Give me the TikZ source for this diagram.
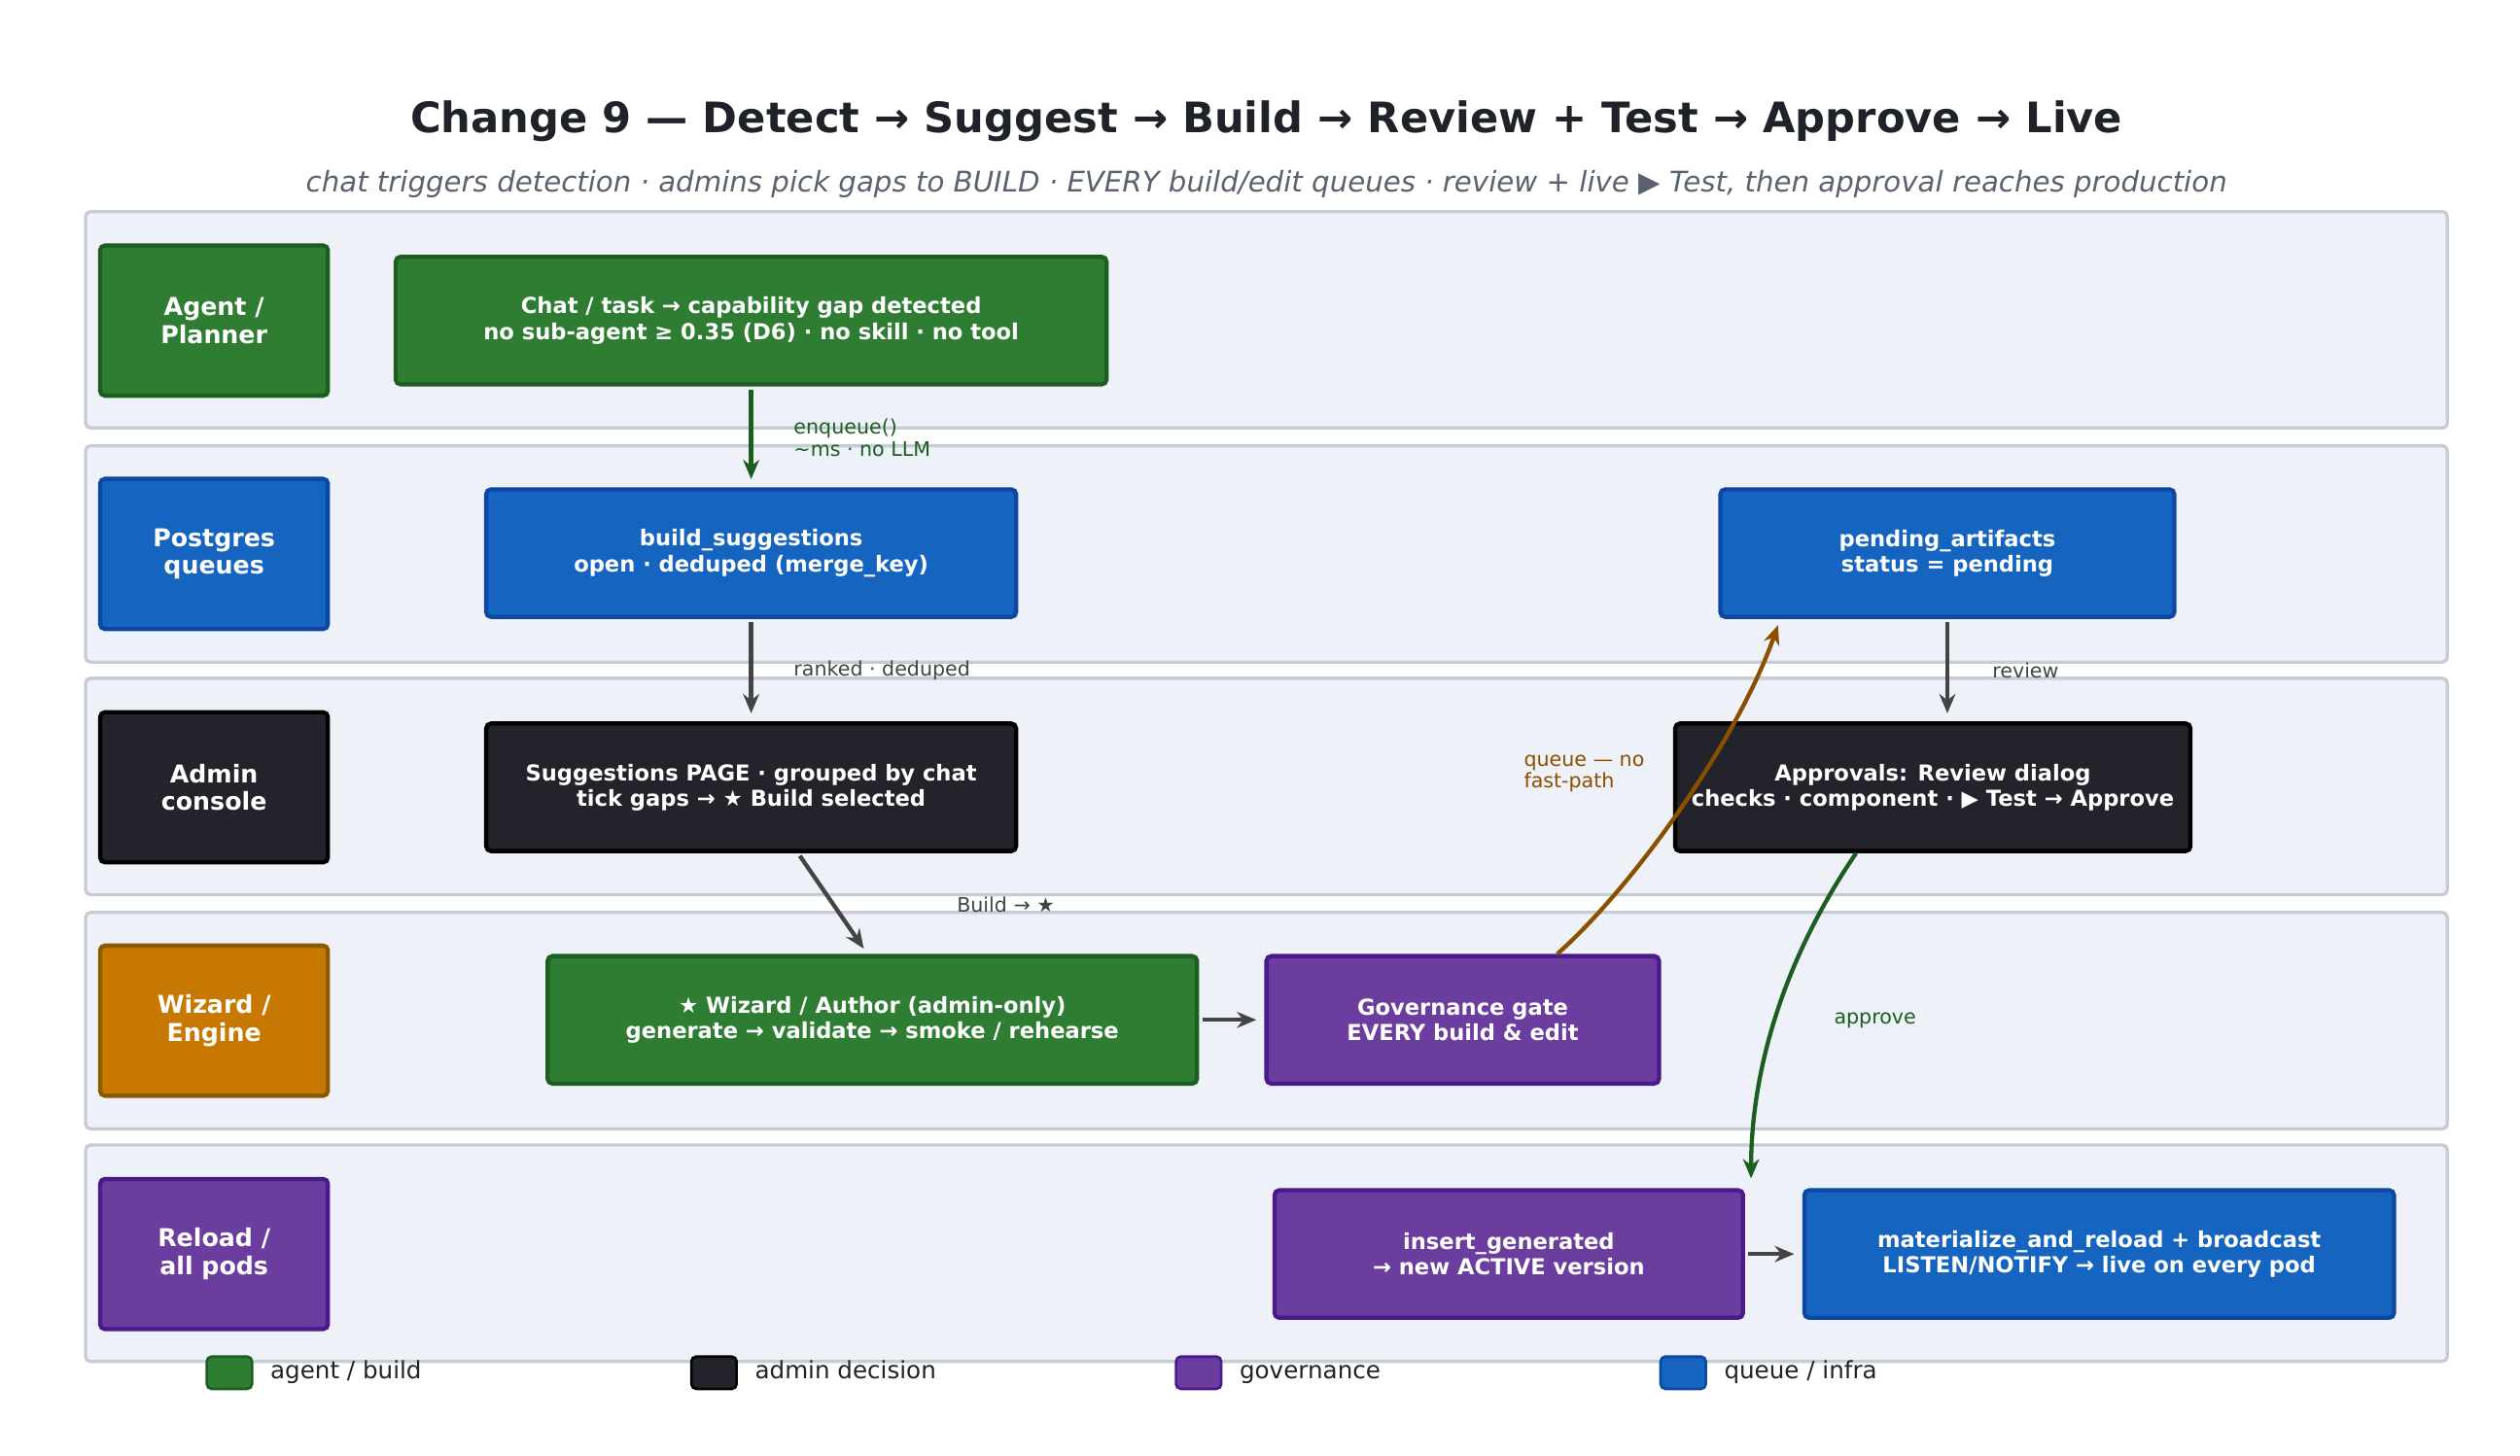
\documentclass[tikz,border=0pt]{standalone}
\usepackage{fontspec}
\setmainfont{DejaVu Sans}
\usetikzlibrary{arrows.meta}
\definecolor{gfill}{HTML}{2E7D32}\definecolor{gdraw}{HTML}{1B5E20}
\definecolor{bfill}{HTML}{1565C0}\definecolor{bdraw}{HTML}{0D47A1}
\definecolor{kfill}{HTML}{23242B}\definecolor{kdraw}{HTML}{000000}
\definecolor{ofill}{HTML}{C77800}\definecolor{odraw}{HTML}{8A5A00}
\definecolor{pfill}{HTML}{6A3D9F}\definecolor{pdraw}{HTML}{4A1A8A}
\definecolor{lanef}{HTML}{EEF1F7}\definecolor{laned}{HTML}{C5CCD6}
\definecolor{titlec}{HTML}{1F2329}\definecolor{subc}{HTML}{5A6270}
\definecolor{grayarr}{HTML}{444444}\definecolor{darkg}{HTML}{1B5E20}
\definecolor{orarr}{HTML}{8A5000}
\tikzset{
 lane/.style={draw=laned,fill=lanef,line width=1pt,rounded corners=1.5pt},
 box/.style={rounded corners=1.5pt,line width=1.3pt,text=white,align=center,
   font=\fontsize{6.8}{7.9}\selectfont\bfseries,minimum height=39.5pt,inner sep=1pt},
 lbl/.style={box,minimum width=70.5pt,minimum height=46.5pt,font=\fontsize{7.6}{8.6}\selectfont\bfseries},
 G/.style={fill=gfill,draw=gdraw},B/.style={fill=bfill,draw=bdraw},
 K/.style={fill=kfill,draw=kdraw},O/.style={fill=ofill,draw=odraw},P/.style={fill=pfill,draw=pdraw},
 arr/.style={-{Stealth[length=6pt,width=5pt]},line width=1.3pt,draw=grayarr},
 small/.style={font=\fontsize{6.2}{6.9}\selectfont,align=left,anchor=west,inner sep=0pt},
 leg/.style={rounded corners=1.5pt,line width=0.8pt,minimum width=14pt,minimum height=10pt,inner sep=0pt},
 legt/.style={font=\fontsize{7.4}{8}\selectfont,text=titlec,anchor=west,inner sep=0pt,text height=5.5pt,text depth=1.5pt}
}
\begin{document}
\begin{tikzpicture}[x=0.5pt,y=-0.5pt]
\useasboundingbox (0,0) rectangle (1560,901);
\fill[white] (0,0) rectangle (1560,901);
\node[font=\fontsize{13}{14}\selectfont\bfseries,text=titlec] (title) at (784,75) {Change 9 — Detect → Suggest → Build → Review + Test → Approve → Live};
\node[font=\fontsize{8.8}{10}\selectfont\itshape,text=subc] (sub) at (784,114) {chat triggers detection · admins pick gaps to BUILD · EVERY build/edit queues · review + live ▶ Test, then approval reaches production};
\foreach \t in {131,276,420,565,709}{\draw[lane] (53,\t) rectangle (1515,\t+134);}
\node[lbl,G] (l1) at (132.5,198.5) {Agent /\\Planner};
\node[lbl,B] (l2) at (132.5,343) {Postgres\\queues};
\node[lbl,K] (l3) at (132.5,487.5) {Admin\\console};
\node[lbl,O] (l4) at (132.5,632) {Wizard /\\Engine};
\node[lbl,P] (l5) at (132.5,776.5) {Reload /\\all pods};
\node[box,G,minimum width=220pt] (chat) at (465,198.5) {Chat / task → capability gap detected\\no sub-agent ≥ 0.35 (D6) · no skill · no tool};
\node[box,B,minimum width=164pt] (bs) at (465,342.5) {build\_suggestions\\open · deduped (merge\_key)};
\node[box,B,minimum width=140.5pt] (pend) at (1205.5,342.5) {pending\_artifacts\\status = pending};
\node[box,K,minimum width=164pt] (page) at (465,487.5) {Suggestions PAGE · grouped by chat\\tick gaps → ★ Build selected};
\node[box,K,minimum width=159.5pt] (appr) at (1196.5,487.5) {Approvals: Review dialog\\checks · component · ▶ Test → Approve};
\node[box,G,minimum width=201pt] (wiz) at (540,631.5) {★ Wizard / Author (admin-only)\\generate → validate → smoke / rehearse};
\node[box,P,minimum width=121.5pt] (gov) at (905.5,631.5) {Governance gate\\EVERY build \& edit};
\node[box,P,minimum width=145pt] (ins) at (934,776.5) {insert\_generated\\→ new ACTIVE version};
\node[box,B,minimum width=182.5pt] (mat) at (1299.5,776.5) {materialize\_and\_reload + broadcast\\LISTEN/NOTIFY → live on every pod};
\draw[arr,draw=darkg,shorten <=1pt,shorten >=2.5pt] (chat.south) -- (bs.north);
\node[small,text=darkg] (t1) at (491,271) {enqueue()\\\textasciitilde ms · no LLM};
\draw[arr,shorten <=1pt,shorten >=2.5pt] (bs.south) -- (page.north);
\node[small,text=grayarr] (t2) at (491,415) {ranked · deduped};
\draw[arr,shorten <=1pt,shorten >=2pt] ([xshift=14.5pt]page.south) -- ([xshift=-1.5pt]wiz.north);
\node[small,text=grayarr] (t3) at (592,560) {Build → ★};
\draw[arr,shorten <=1pt,shorten >=2.5pt] (wiz.east) -- (gov.west);
\draw[arr,draw=orarr,shorten >=2pt] ([xshift=29.25pt]gov.north) .. controls (1010,550) and (1075,460) .. ([xshift=-51.75pt]pend.south);
\node[small,text=orarr] (t4) at (943,479) {queue — no\\fast-path};
\draw[arr,shorten <=1pt,shorten >=2.5pt] (pend.south) -- (pend.south |- appr.north);
\node[small,text=grayarr] (t5) at (1233,415) {review};
\draw[arr,draw=darkg,shorten >=3pt] ([xshift=-23.75pt]appr.south) .. controls (1100,600) and (1084,670) .. ([xshift=75pt]ins.north);
\node[small,text=darkg] (t6) at (1135,632) {approve};
\draw[arr,shorten <=1pt,shorten >=2.5pt] (ins.east) -- (mat.west);
\node[leg,G] (g1) at (142,850) {}; \node[legt] (g1t) at (167,850) {agent / build};
\node[leg,K] (g2) at (442,850) {}; \node[legt] (g2t) at (467,850) {admin decision};
\node[leg,P] (g3) at (742,850) {}; \node[legt] (g3t) at (767,850) {governance};
\node[leg,B] (g4) at (1042,850) {}; \node[legt] (g4t) at (1067,850) {queue / infra};
\end{tikzpicture}
\end{document}
